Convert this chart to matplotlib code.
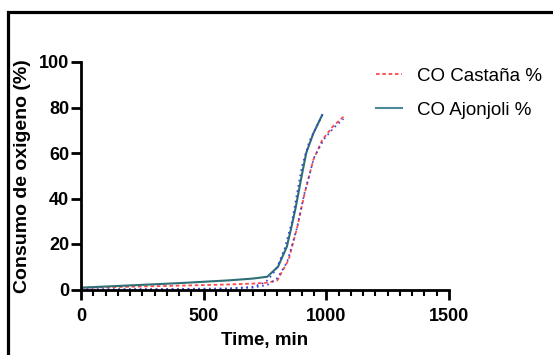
import matplotlib
matplotlib.use("Agg")
import matplotlib.pyplot as plt
from matplotlib.patches import Rectangle
from matplotlib.ticker import MultipleLocator

plt.rcParams['font.family'] = ['Liberation Sans', 'DejaVu Sans']

# CO Castaña % (measured, red dashed)
t_castana = [0, 200, 400, 600, 700, 760, 800, 846, 882, 911, 947, 983, 1026, 1070]
co_castana = [0.8, 1.2, 1.7, 2.2, 2.6, 3.0, 4.0, 13.0, 27.6, 42.0, 57.0, 65.7, 71.6, 76.0]

# CO Ajonjoli % (measured, teal solid)
t_ajonjoli = [0, 200, 400, 600, 700, 759, 803, 839, 860, 875, 896, 918, 947, 983]
co_ajonjoli = [0.8, 1.8, 2.8, 4.0, 4.8, 5.6, 10.0, 18.8, 28.5, 36.0, 48.0, 60.0, 68.6, 76.7]

# fitted curves (blue dotted)
t_fit_aj = [0, 300, 600, 700, 750, 780, 800, 830, 860, 880, 900, 930, 960, 985]
fit_aj = [0.1, 0.2, 0.5, 1.2, 3.0, 6.5, 10.0, 18.0, 30.0, 42.0, 54.0, 65.0, 71.5, 77.0]
t_fit_ca = [0, 300, 600, 700, 760, 800, 840, 880, 910, 950, 990, 1030, 1070]
fit_ca = [0.0, 0.1, 0.3, 0.8, 2.0, 5.0, 12.0, 27.0, 42.0, 58.0, 66.0, 71.0, 75.0]

fig = plt.figure(figsize=(5.53, 3.55), dpi=100)
ax = fig.add_axes([81 / 553, 1 - 289.5 / 355, 368 / 553, 227.5 / 355])

# outer frame
fig.patches.append(Rectangle((8 / 553, -0.05), 1.2, 1 - 12 / 355 + 0.05,
                             transform=fig.transFigure, fill=False,
                             edgecolor='black', linewidth=2.3))

ax.plot(t_castana, co_castana, color='#ff4a4a', linestyle=(0, (2, 1.5)),
        linewidth=1.3, label='CO Castaña %')
ax.plot(t_fit_ca, fit_ca, color='#3344dd', linestyle=(0, (1, 2.2)), linewidth=1.2)
ax.plot(t_ajonjoli, co_ajonjoli, color='#2e6e74', linewidth=1.5,
        label='CO Ajonjoli %')
ax.plot(t_fit_aj, fit_aj, color='#3344dd', linestyle=(0, (1, 2.2)), linewidth=1.2)

ax.set_xlim(0, 1500)
ax.set_ylim(0, 100)
ax.xaxis.set_major_locator(MultipleLocator(500))
ax.xaxis.set_minor_locator(MultipleLocator(50))
ax.yaxis.set_major_locator(MultipleLocator(20))

for s in ['top', 'right']:
    ax.spines[s].set_visible(False)
for s in ['left', 'bottom']:
    ax.spines[s].set_linewidth(2)
ax.tick_params(which='major', direction='out', length=7, width=2,
               labelsize=13)
ax.tick_params(axis='y', which='major', pad=1.5)
ax.tick_params(axis='x', which='major', pad=6)
ax.tick_params(which='minor', direction='out', length=4, width=1.5)
for lab in ax.get_xticklabels() + ax.get_yticklabels():
    lab.set_fontweight('bold')

ax.set_xlabel('Time, min', fontsize=13.5, fontweight='bold')
ax.set_ylabel('Consumo de oxigeno (%)', fontsize=14, fontweight='bold')
ax.xaxis.set_label_coords(0.5, -0.185)
ax.yaxis.set_label_coords(-0.158, 0.5)
ax.yaxis.label.set_verticalalignment('center')

leg = ax.legend(loc='upper left', bbox_to_anchor=(0.755, 1.05), frameon=False,
                fontsize=13.5, handlelength=1.4, handletextpad=0.8,
                labelspacing=0.9)
leg.get_lines()[1].set_color('#4a8a94')

fig.savefig('out.png', dpi=100)
